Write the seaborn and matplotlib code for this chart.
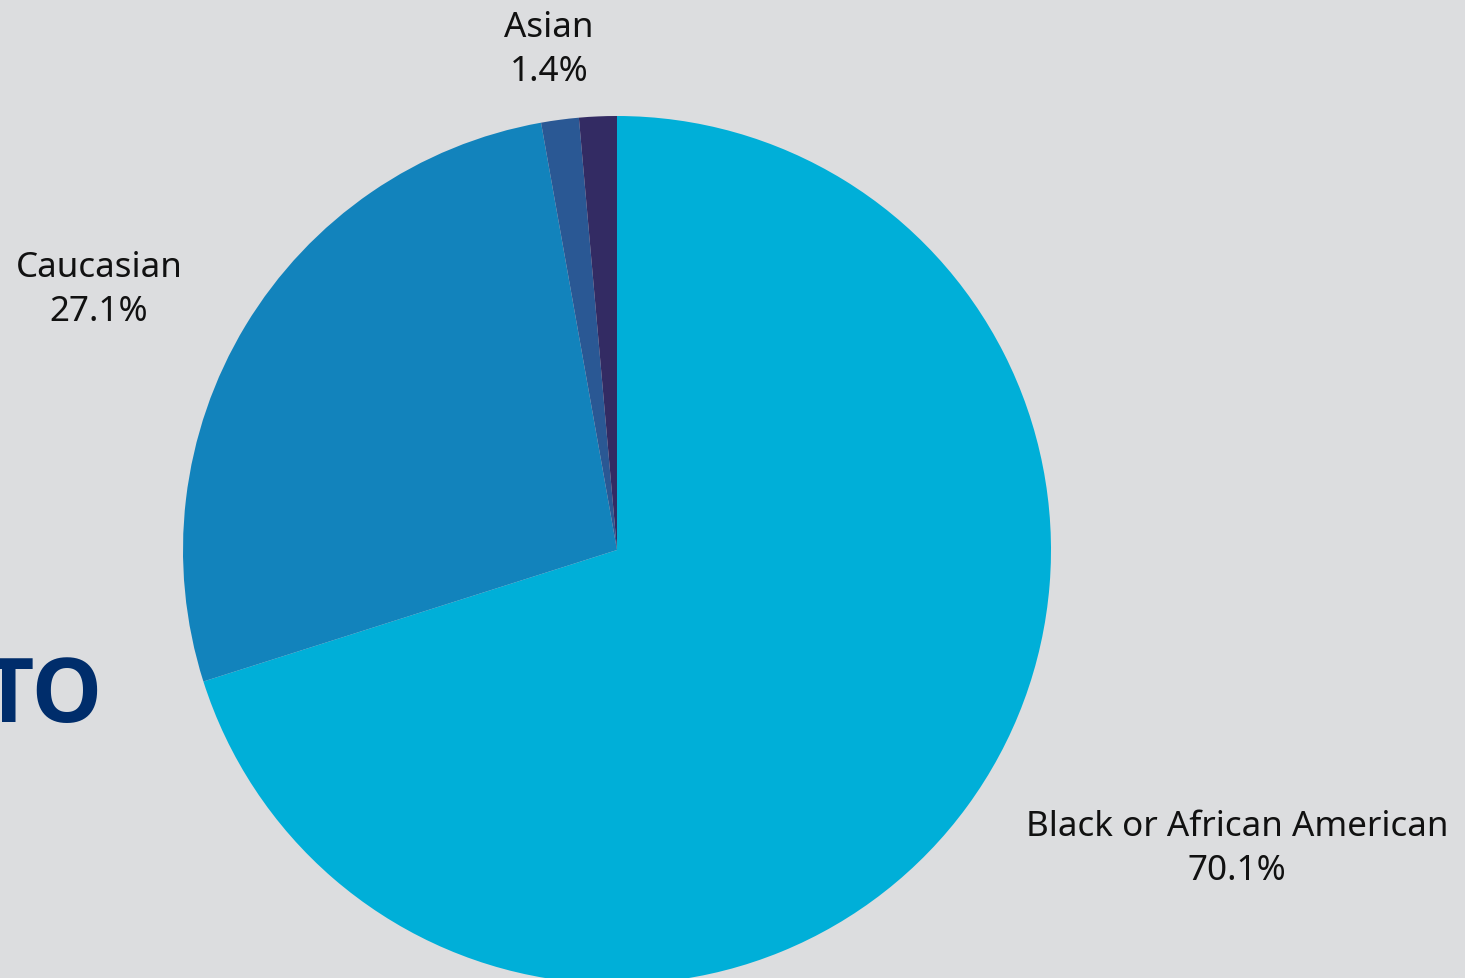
import matplotlib
matplotlib.use("Agg")
import matplotlib.pyplot as plt
import seaborn as sns

# Data
groups = ["Black or African American", "Caucasian", "Other", "Asian"]
shares = [70.1, 27.1, 1.4, 1.4]
show_label = [True, True, False, True]
colors = ["#00AFD8", "#1283BC", "#2A5894", "#332B63"]

bg = "#DCDDDF"
sns.set_theme(style="white", rc={"figure.facecolor": bg, "axes.facecolor": bg})
plt.rcParams["font.family"] = ["Noto Sans", "DejaVu Sans"]

W, H = 1465, 979
fig = plt.figure(figsize=(W / 100, H / 100), dpi=100)
ax = fig.add_axes([0, 0, 1, 1])

# pie in pixel units, y measured from bottom
cx, cy, r = 617, H - 551, 434
ax.pie(shares, colors=colors, startangle=90, counterclock=False,
       center=(cx, cy), radius=r, frame=True,
       wedgeprops=dict(linewidth=0))
ax.set_xlim(0, W)
ax.set_ylim(0, H)
ax.set_aspect("equal")
ax.axis("off")

# label spots (pixels, top-left origin) as placed in the original
label_pos = [(1237, 849), (99, 290), None, (549, 50)]
for name, val, show, pos in zip(groups, shares, show_label, label_pos):
    if not show:
        continue
    ax.text(pos[0], H - pos[1], f"{name}\n{val:.1f}%", ha="center", va="center",
            fontsize=25.2, color="#111111", linespacing=1.4)

# remnant of the slide title behind the chart
ax.text(102, H - 722, "TO", ha="right", va="baseline", fontsize=64,
        fontweight="bold", family=["Open Sans", "DejaVu Sans"], color="#002D6B")

fig.savefig("out.png", dpi=100, facecolor=bg)
